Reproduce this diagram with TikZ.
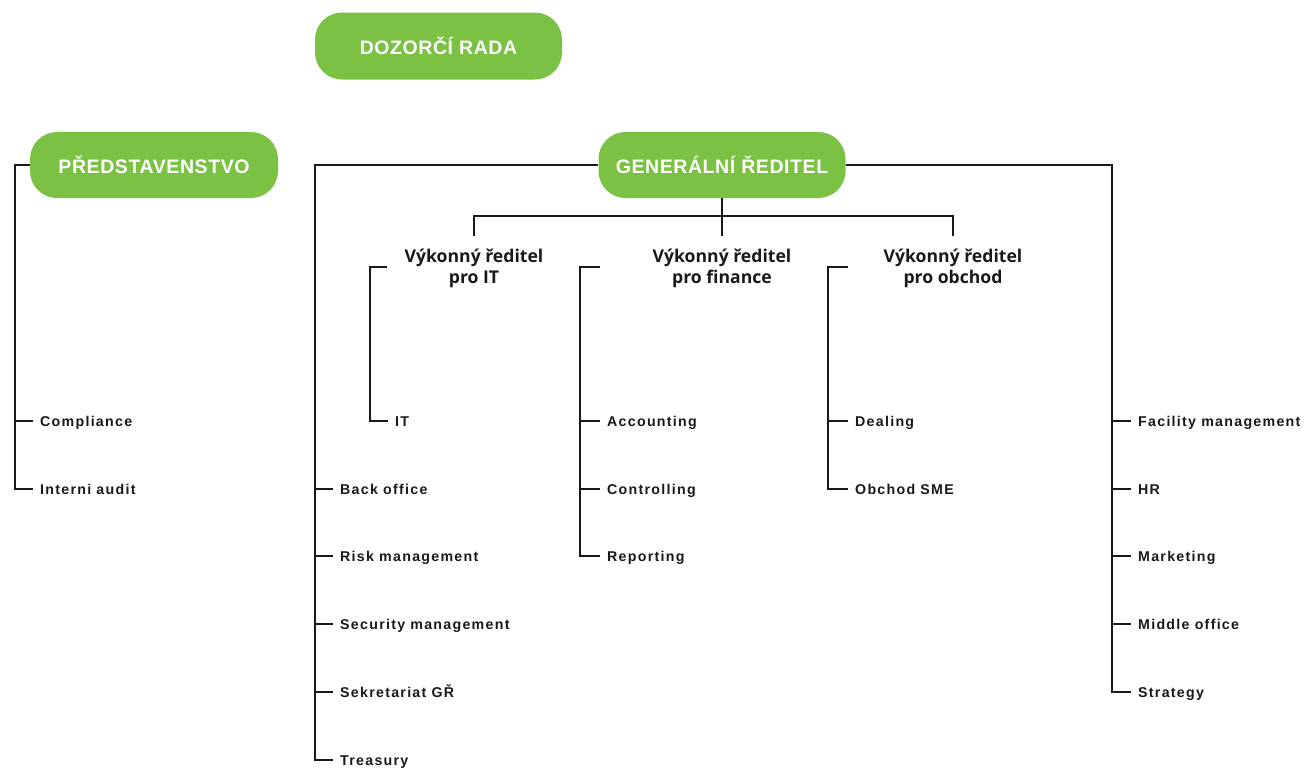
\documentclass[tikz,border=0pt]{standalone}
\usepackage{fontspec}
\setmainfont{Liberation Sans}
\newfontfamily\boxfont{Liberation Sans}[LetterSpace=3]
\newfontfamily\leaffont{Liberation Sans}[LetterSpace=9]
\newfontfamily\execfont{Open Sans}
\definecolor{boxgreen}{RGB}{123,193,67}
\definecolor{linecol}{RGB}{25,25,25}
\begin{document}
\begin{tikzpicture}[x=1pt,y=-1pt,
  greenbox/.style={rounded corners=27pt, fill=boxgreen, minimum height=67pt, minimum width=247pt, inner sep=0pt,
    text=white, font=\fontsize{19.5}{22}\selectfont\boxfont\bfseries},
  leaf/.style={anchor=west, inner xsep=7pt, inner ysep=0pt, text height=10pt, text depth=0pt,
    text=linecol, font=\fontsize{14.2}{16}\selectfont\leaffont\bfseries},
  exec/.style={align=center, inner sep=0pt, text=linecol, font=\fontsize{17.6}{21}\selectfont\execfont\bfseries},
  conn/.style={draw=linecol, line width=1.8pt}
]
\useasboundingbox (0,0) rectangle (1308,769);

% green boxes
\node[greenbox] (dr) at (438.5,46) {DOZORČÍ RADA};
\node[greenbox, minimum height=66pt, minimum width=248pt] (pr) at (154,165) {PŘEDSTAVENSTVO};
\node[greenbox, minimum height=66pt] (gr) at (722,165) {GENERÁLNÍ ŘEDITEL};

% executive directors
\node[exec] (e1) at (474,268.5) {Výkonný ředitel\\pro IT};
\node[exec] (e2) at (722,268.5) {Výkonný ředitel\\pro finance};
\node[exec] (e3) at (953,268.5) {Výkonný ředitel\\pro obchod};

% leaves
\node[leaf] (compl) at (33,421) {Compliance};
\node[leaf] (audit) at (33,489) {Interni audit};

\node[leaf] (back) at (333,489) {Back office};
\node[leaf] (risk) at (333,556) {Risk management};
\node[leaf] (sec) at (333,624) {Security management};
\node[leaf] (sekr) at (333,692) {Sekretariat GŘ};
\node[leaf] (treas) at (333,760) {Treasury};

\node[leaf] (it) at (388,421) {IT};

\node[leaf] (acc) at (600,421) {Accounting};
\node[leaf] (ctrl) at (600,489) {Controlling};
\node[leaf] (rep) at (600,556) {Reporting};

\node[leaf] (deal) at (848,421) {Dealing};
\node[leaf] (sme) at (848,489) {Obchod SME};

\node[leaf] (fac) at (1131,421) {Facility management};
\node[leaf] (hr) at (1131,489) {HR};
\node[leaf] (mkt) at (1131,556) {Marketing};
\node[leaf] (mid) at (1131,624) {Middle office};
\node[leaf] (strat) at (1131,692) {Strategy};

% coordinates
\coordinate (prsp) at (15,165);
\coordinate (gls) at (315,165);
\coordinate (grs) at (1112,165);
\coordinate (j) at (722,216);
\coordinate (d1) at (474,236);
\coordinate (d2) at (722,236);
\coordinate (d3) at (953,236);
\coordinate (itt) at (387,267);
\coordinate (its) at (370,267);
\coordinate (fit) at (600,267);
\coordinate (fis) at (580,267);
\coordinate (obt) at (848,267);
\coordinate (obs) at (828,267);

% connectors
\draw[conn] (pr.west) -- (prsp) |- (audit.west);
\draw[conn] (prsp |- compl.west) -- (compl.west);

\draw[conn] (gr.west) -- (gls) |- (treas.west);
\foreach \n in {back,risk,sec,sekr} \draw[conn] (gls |- \n.west) -- (\n.west);

\draw[conn] (gr.east) -- (grs) |- (strat.west);
\foreach \n in {fac,hr,mkt,mid} \draw[conn] (grs |- \n.west) -- (\n.west);

\draw[conn] (gr.south) -- (d2);
\draw[conn] (d1) |- (j) -| (d3);

\draw[conn] (itt) -- (its) |- (it.west);
\draw[conn] (fit) -- (fis) |- (rep.west);
\foreach \n in {acc,ctrl} \draw[conn] (fis |- \n.west) -- (\n.west);
\draw[conn] (obt) -- (obs) |- (sme.west);
\draw[conn] (obs |- deal.west) -- (deal.west);
\end{tikzpicture}
\end{document}
